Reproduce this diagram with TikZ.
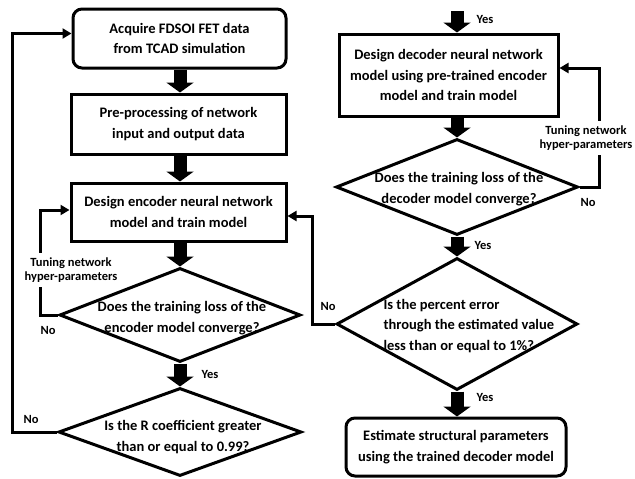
\documentclass[tikz,border=0pt]{standalone}
\usepackage{fontspec}
\setmainfont{Carlito}
\usetikzlibrary{arrows.meta,shapes.geometric,calc}
\begin{document}
\begin{tikzpicture}[x=1pt,y=-1pt,
  procbox/.style={draw, line width=3pt, inner sep=0pt, align=center,
    font=\fontsize{14.5}{20.5}\selectfont\bfseries},
  roundbox/.style={procbox, rounded corners=9pt},
  decision/.style={draw, diamond, line width=3pt, inner sep=0pt},
  dtext/.style={align=center, font=\fontsize{14.5}{20.5}\selectfont\bfseries},
  lab/.style={align=center, font=\fontsize{12.5}{14.5}\selectfont\bfseries},
  bigarrow/.style={line width=13pt, -{Triangle[length=10pt,width=27pt]}},
  link/.style={line width=3pt, -{Triangle[length=9pt,width=10pt]}}]
\useasboundingbox (0,0) rectangle (635,479);

% left column
\node[roundbox, minimum width=213pt, minimum height=59pt] (A) at (179.5,38.5)
  {Acquire FDSOI FET data\\from TCAD simulation};
\node[procbox, minimum width=215pt, minimum height=60pt] (B) at (178.5,124)
  {Pre-processing of network\\input and output data};
\node[procbox, minimum width=215pt, minimum height=58pt] (C) at (178.5,212)
  {Design encoder neural network\\model and train model};
\node[decision, minimum width=241pt, minimum height=94pt] (D) at (180,315) {};
\node[dtext] (Dt) at (182,318) {Does the training loss of the\\encoder model converge?};
\node[decision, minimum width=243pt, minimum height=88pt] (E) at (180,432) {};
\node[dtext] (Et) at (183,437) {Is the R coefficient greater\\than or equal to 0.99?};

% right column
\node[procbox, minimum width=219pt, minimum height=82pt] (F) at (448.5,75)
  {Design decoder neural network\\model using pre-trained encoder\\model and train model};
\node[decision, minimum width=242pt, minimum height=96pt] (G) at (457,187) {};
\node[dtext] (Gt) at (459,189) {Does the training loss of the\\decoder model converge?};
\node[decision, minimum width=241pt, minimum height=132pt] (H) at (457,324) {};
\node[dtext, align=left, anchor=west] (Ht) at (380,326)
  {Is the percent error\\through the estimated value\\less than or equal to 1\%?};
\node[roundbox, minimum width=220pt, minimum height=58pt] (I) at (456,447)
  {Estimate structural parameters\\using the trained decoder model};

% block arrows
\draw[bigarrow] (A.south -| D.north) -- (B.north -| D.north);
\draw[bigarrow] (B.south -| D.north) -- (C.north -| D.north);
\draw[bigarrow] (C.south -| D.north) -- (D.north);
\draw[bigarrow] (D.south) -- (E.north);
\coordinate (Ftop) at (457,11);
\draw[bigarrow] (Ftop) -- (Ftop |- F.north);
\draw[bigarrow] (F.south -| G.north) -- (G.north);
\draw[bigarrow] (G.south) -- (H.north);
\draw[bigarrow] (H.south) -- (I.north -| H.south);

% feedback links
\draw[link] (E.west) -- (12,432) -- (12,33.5) -- ([yshift=5pt]A.west);
\draw[link] (D.west) -- (40,315) -- (40,210) -- ([yshift=2pt]C.west);
\draw[link] (G.east) -- (599,187) -- (599,68) -- ([yshift=7pt]F.east);
\draw[link] (H.west) -- (312,324) -- (312,216) -- ([yshift=-4pt]C.east);

% labels
\node[lab, fill=white, inner xsep=1pt, inner ysep=4pt] (L1) at (71,270) {Tuning network\\hyper-parameters};
\node[lab, fill=white, inner xsep=1pt, inner ysep=4pt] (L2) at (586,138) {Tuning network\\hyper-parameters};
\node[lab] (y1) at (210,374) {Yes};
\node[lab] (y2) at (485,19) {Yes};
\node[lab] (y3) at (483,245) {Yes};
\node[lab] (y4) at (485,397) {Yes};
\node[lab] (n1) at (31,419) {No};
\node[lab] (n2) at (48,330) {No};
\node[lab] (n3) at (588,202) {No};
\node[lab] (n4) at (328,306) {No};
\end{tikzpicture}
\end{document}
